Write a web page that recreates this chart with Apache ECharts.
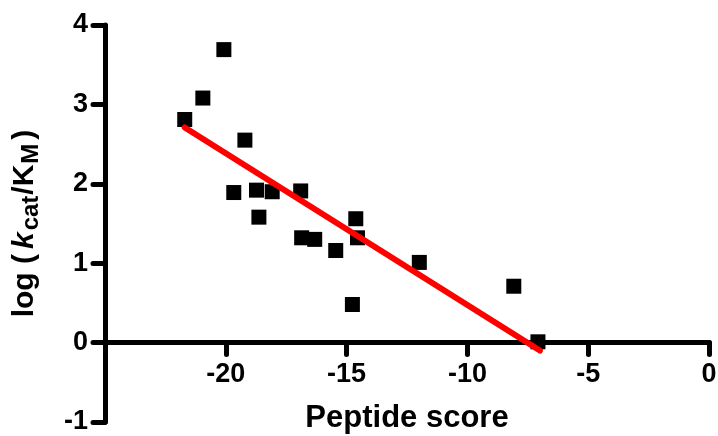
<!DOCTYPE html>
<html>
<head>
<meta charset="utf-8">
<script src="https://cdn.jsdelivr.net/npm/echarts@6/dist/echarts.min.js"></script>
<style>html,body{margin:0;padding:0;background:#fff}#c{width:718px;height:436px}</style>
</head>
<body>
<div id="c"></div>
<script>
// Data
var scoreX = [-21.70, -20.95, -20.08, -19.21, -19.67, -18.73, -18.08, -16.90, -18.63, -14.62, -16.86, -16.32, -14.55, -15.45, -11.99, -14.76, -8.08, -7.08];
var logK   = [2.81, 3.08, 3.69, 2.55, 1.89, 1.92, 1.90, 1.91, 1.58, 1.56, 1.32, 1.30, 1.32, 1.16, 1.01, 0.48, 0.71, 0.01];
var fitX = [-21.7, -7.0];
var fitY = [2.71, -0.10];
var xTicks = [-25, -20, -15, -10, -5, 0];
var yTicks = [-1, 0, 1, 2, 3, 4];

var FONT = 'Liberation Sans';
var points = scoreX.map(function (x, i) { return [x, logK[i]]; });
var fit = fitX.map(function (x, i) { return [x, fitY[i]]; });

var GRID_TOP = 25, GRID_BOTTOM = 14, H = 436;
var plotH = H - GRID_TOP - GRID_BOTTOM;
var yMin = yTicks[0], yMax = yTicks[yTicks.length - 1];
// shift x axis up so it sits on y = 0
var xOffset = -plotH * (0 - yMin) / (yMax - yMin);

var chart = echarts.init(document.getElementById('c'), null, {renderer: 'canvas'});
chart.setOption({
  animation: false,
  backgroundColor: '#fff',
  grid: {left: 105, right: 9, top: GRID_TOP, bottom: GRID_BOTTOM, containLabel: false, outerBoundsMode: 'none'},
  xAxis: {
    type: 'value',
    position: 'bottom',
    offset: xOffset,
    min: xTicks[0], max: xTicks[xTicks.length - 1], interval: 5,
    splitLine: {show: false},
    axisLine: {onZero: false, lineStyle: {color: '#000', width: 5, cap: 'round'}},
    axisTick: {show: true, length: 12, lineStyle: {color: '#000', width: 5, cap: 'round'}},
    axisLabel: {showMinLabel: false, margin: 18, color: '#000', fontFamily: FONT, fontWeight: 'bold', fontSize: 27},
    name: 'Peptide score',
    nameLocation: 'middle',
    nameGap: 60,
    nameTextStyle: {color: '#000', fontFamily: FONT, fontWeight: 'bold', fontSize: 31}
  },
  yAxis: {
    type: 'value',
    min: yMin, max: yMax, interval: 1,
    splitLine: {show: false},
    axisLine: {onZero: false, lineStyle: {color: '#000', width: 5, cap: 'round'}},
    axisTick: {show: true, length: 12, lineStyle: {color: '#000', width: 5, cap: 'round'}},
    axisLabel: {margin: 17, color: '#000', fontFamily: FONT, fontWeight: 'bold', fontSize: 27},
    name: '{b|log (}{i|k}{s|cat}{d|/K}{m|M}{c|)}',
    nameLocation: 'middle',
    nameRotate: 90,
    nameGap: 62,
    nameTextStyle: {
      color: '#000', fontFamily: FONT, fontWeight: 'bold', fontSize: 30,
      rich: {
        b: {fontFamily: FONT, fontWeight: 'bold', fontSize: 30, color: '#000', lineHeight: 36, verticalAlign: 'middle', padding: [0, 5, 0, 0]},
        d: {fontFamily: FONT, fontWeight: 'bold', fontSize: 30, color: '#000', lineHeight: 36, verticalAlign: 'middle', padding: [0, 1, 0, 0]},
        c: {fontFamily: FONT, fontWeight: 'bold', fontSize: 30, color: '#000', lineHeight: 36, verticalAlign: 'middle', padding: [0, 0, 0, 4]},
        i: {fontFamily: FONT, fontWeight: 'bold', fontStyle: 'italic', fontSize: 30, color: '#000', lineHeight: 36, verticalAlign: 'middle', padding: [0, 2, 0, 0]},
        s: {fontFamily: FONT, fontWeight: 'bold', fontSize: 24, color: '#000', lineHeight: 22, verticalAlign: 'bottom', padding: [12, 1, 0, 0]},
        m: {fontFamily: FONT, fontWeight: 'bold', fontSize: 24, color: '#000', lineHeight: 22, verticalAlign: 'bottom', padding: [12, 0, 0, 0]}
      }
    }
  },
  series: [
    {
      type: 'scatter',
      data: points,
      symbol: 'rect',
      symbolSize: 15,
      itemStyle: {color: '#000', opacity: 1},
      z: 2
    },
    {
      type: 'line',
      data: fit,
      symbol: 'none',
      lineStyle: {color: '#ff0000', width: 6, cap: 'round'},
      z: 3
    }
  ]
});
</script>
</body>
</html>
